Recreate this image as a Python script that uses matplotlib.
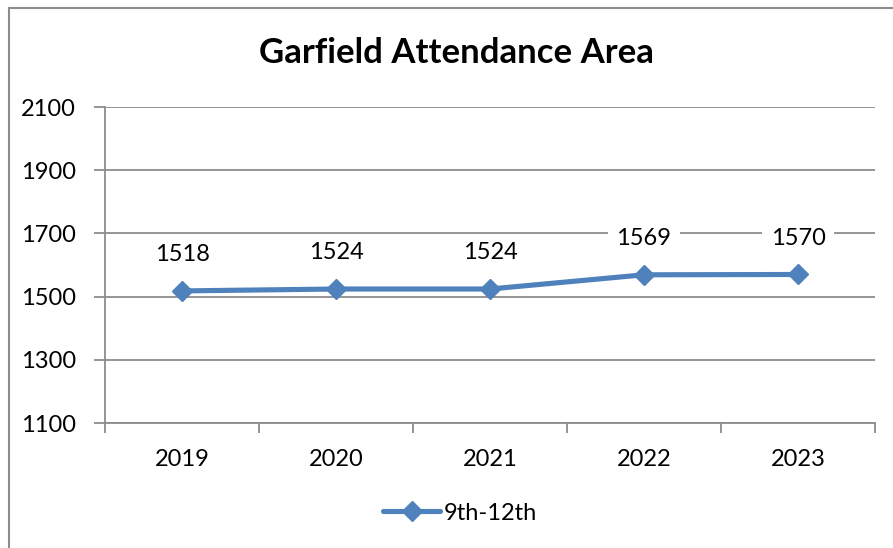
import matplotlib
matplotlib.use("Agg")
import matplotlib.pyplot as plt
from matplotlib.lines import Line2D

years = ["2019", "2020", "2021", "2022", "2023"]
values = [1518, 1524, 1524, 1569, 1570]
series_name = "9th-12th"
title = "Garfield Attendance Area"
yticks = [1100, 1300, 1500, 1700, 1900, 2100]

plt.rcParams['font.family'] = ['Lato', 'DejaVu Sans']

W, H = 893, 548
fig = plt.figure(figsize=(W / 100, H / 100), dpi=100)
fig.patch.set_facecolor('white')

# outer chart border (left and top visible)
fig.add_artist(Line2D([9 / W, 9 / W], [0, 1 - 8 / H], transform=fig.transFigure,
                      color='#8c8c8c', lw=1.5))
fig.add_artist(Line2D([9 / W, 1], [1 - 8 / H, 1 - 8 / H], transform=fig.transFigure,
                      color='#8c8c8c', lw=1.5))

left, right, top, bottom = 105, 875, 107, 423
ax = fig.add_axes([left / W, 1 - bottom / H, (right - left) / W, (bottom - top) / H])
ax.set_facecolor('none')

x = list(range(len(years)))
color = '#4F81BD'
ax.plot(x, values, color=color, lw=3.7, marker='D', markersize=10.5,
        label=series_name, zorder=3, solid_capstyle='round')

ax.set_xlim(-0.5, len(years) - 0.5)
ax.set_ylim(yticks[0], yticks[-1])
ax.set_yticks(yticks)
ax.set_yticklabels([str(t) for t in yticks])
ax.yaxis.grid(True, color='#8c8c8c', lw=1.3, zorder=0)
ax.set_axisbelow(True)

# x: labels at categories, ticks at boundaries
ax.set_xticks(x)
ax.set_xticklabels(years)
ax.tick_params(axis='x', length=0, labelsize=17, pad=19, colors='black')
ax.set_xticks([i - 0.5 for i in range(len(years) + 1)], minor=True)
ax.tick_params(axis='x', which='minor', length=7, width=1.3, color='#8c8c8c', direction='out')
ax.tick_params(axis='y', length=8, width=1.3, color='#8c8c8c', labelsize=17, pad=13)

for s in ['top', 'right']:
    ax.spines[s].set_visible(False)
for s in ['left', 'bottom']:
    ax.spines[s].set_color('#8c8c8c')
    ax.spines[s].set_linewidth(1.3)

for xi, v in zip(x, values):
    ax.annotate(str(v), (xi, v), xytext=(0, 26), textcoords='offset points',
                ha='center', va='center', fontsize=17, color='black', zorder=4,
                bbox=dict(boxstyle='square,pad=0.35', fc='white', ec='none'))

fig.text(456 / W, 1 - 53 / H, title, ha='center', va='center', fontsize=25, fontweight='bold')

leg = fig.legend(handles=ax.get_lines(), loc='center', bbox_to_anchor=(460 / W, 1 - 513 / H),
                 frameon=False, fontsize=17, handlelength=2.4, handletextpad=0.15)

fig.savefig('out.png', dpi=100, facecolor='white')
